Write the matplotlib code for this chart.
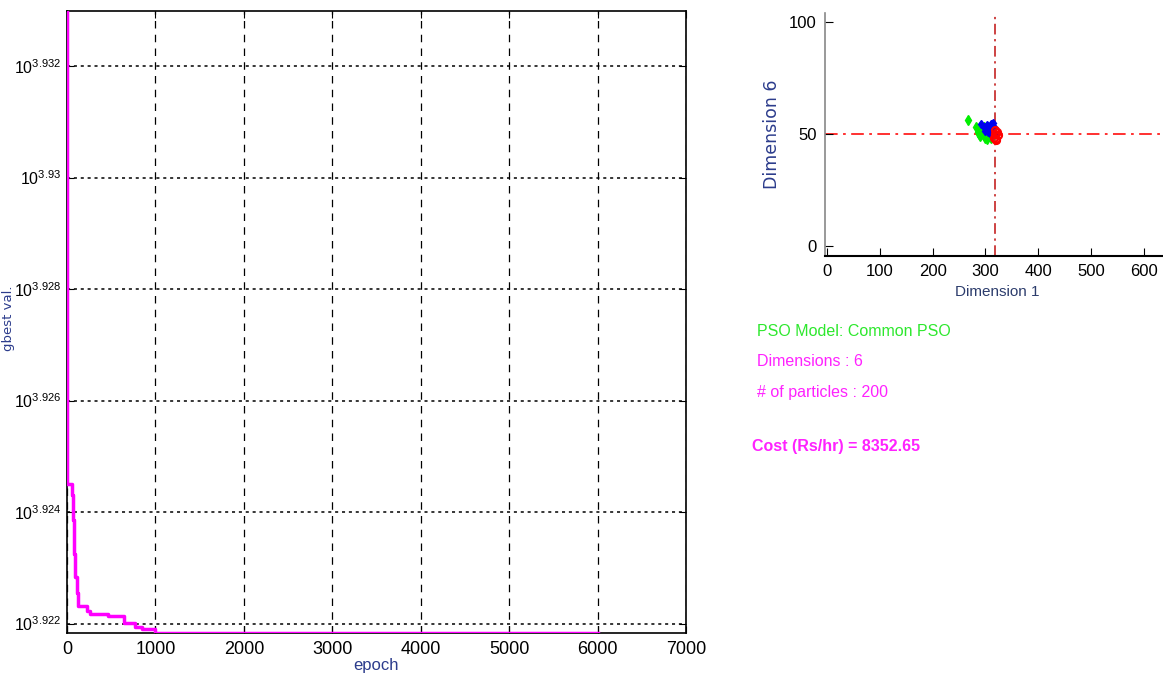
import numpy as np
import matplotlib
matplotlib.use('Agg')
import matplotlib.pyplot as plt
from matplotlib.ticker import NullLocator

plt.rcParams['font.family'] = ['Liberation Sans Narrow', 'Liberation Sans', 'DejaVu Sans']
plt.rcParams['mathtext.default'] = 'regular'

# convergence history (gbest value per epoch, step-wise)
epochs = [0, 5, 57, 68, 80, 95, 113, 124, 226, 260, 464, 645, 769, 848, 995, 6000]
gbest = [8600, 8404.5, 8400.5, 8392, 8380, 8372, 8366.5, 8362.1, 8360.5, 8359.2,
         8358.6, 8356.1, 8354.8, 8354.0, 8352.65, 8352.65]
ytick_exp = [3.922, 3.924, 3.926, 3.928, 3.93, 3.932]
ytick_txt = ['3.922', '3.924', '3.926', '3.928', '3.93', '3.932']
xticks_left = [0, 1000, 2000, 3000, 4000, 5000, 6000, 7000]

# particle swarm snapshot (dimension 1 vs dimension 6)
green_x = [268, 283, 286, 290, 293, 296, 300, 303, 306, 309, 312, 298, 288, 304, 310]
green_y = [56.5, 53, 51, 49, 52, 50, 48.5, 51, 49, 52, 50, 53, 50, 48, 48.5]
blue_x = [292, 298, 303, 307, 310, 313, 316, 318, 305, 312, 300, 315]
blue_y = [54.5, 53, 54, 52, 54.5, 51, 53, 50, 51, 49, 51.5, 55]
red_x = [318, 320, 322, 319, 321, 323, 317]
red_y = [50, 48, 51, 52, 47.5, 49.5, 48.5]
gbest_pos = (319, 50)

info_lines = [('PSO Model: Common PSO', '#2de82d', 'normal'),
              ('Dimensions : 6', '#ff22ff', 'normal'),
              ('# of particles : 200', '#ff22ff', 'normal')]
cost_text = 'Cost (Rs/hr) = 8352.65'

label_blue = '#2c3c8c'

fig = plt.figure(figsize=(11.63, 6.77), dpi=100)

# ---- left: convergence plot ----
ax = fig.add_axes([67 / 1163, 1 - 633 / 677, (686 - 67) / 1163, (633 - 11) / 677])
ax.plot(epochs, gbest, color='#ff00ff', lw=2.5, drawstyle='steps-post', zorder=3)
ax.set_yscale('log')
ax.set_ylim(10 ** 3.92183, 10 ** 3.93299)
ax.set_xlim(0, 7000)
ax.set_yticks([10 ** e for e in ytick_exp])
ax.set_yticklabels([r'$10^{%s}$' % t for t in ytick_txt])
ax.yaxis.set_minor_locator(NullLocator())
ax.set_xticks(xticks_left)
ax.set_xticklabels([str(v) for v in xticks_left])
ax.tick_params(direction='in', top=True, right=True, length=5, labelsize=13, pad=6)
ax.tick_params(axis='y', labelsize=11.5, pad=4)
ax.xaxis.grid(True, color='k', ls=(0, (6, 5)), lw=0.9)
ax.yaxis.grid(True, color='k', ls=(0, (2, 2.5)), lw=1.1)
for s in ax.spines.values():
    s.set_linewidth(1.2)
ax.set_xlabel('epoch', color=label_blue, fontsize=12, labelpad=0)
fig.text(9 / 1163, 1 - 318 / 677, 'gbest val.', color=label_blue, fontsize=9.5,
         family='DejaVu Sans', rotation=90, ha='center', va='center')

# ---- right: swarm plot ----
ax2 = fig.add_axes([825 / 1163, 1 - 256 / 677, (1170 - 825) / 1163, (256 - 13) / 677])
ax2.set_xlim(-4, 650)
ax2.set_ylim(-4.3, 104)
ax2.axhline(gbest_pos[1], color='#ff2020', ls=(0, (7, 3, 1.5, 3)), lw=1.3, zorder=1)
ax2.axvline(gbest_pos[0], color='#c01010', ls=(0, (7, 3, 1.5, 3)), lw=1.1, zorder=1)
ax2.plot(green_x, green_y, 'd', color='#00ee00', ms=5, mec='#00ee00', zorder=2)
ax2.plot(blue_x, blue_y, 'd', color='#0000ee', ms=4.5, mec='#0000ee', zorder=3)
ax2.plot(red_x, red_y, 'o', color='#ff0000', mfc='none', ms=5, mew=1.6, zorder=4)
ax2.set_xticks([0, 100, 200, 300, 400, 500, 600])
ax2.set_yticks([0, 50, 100])
ax2.tick_params(direction='in', length=6, labelsize=12, pad=6)
ax2.spines['top'].set_visible(False)
ax2.spines['right'].set_visible(False)
ax2.spines['left'].set_color('#888888')
ax2.spines['left'].set_linewidth(1.2)
ax2.spines['bottom'].set_linewidth(1.5)
ax2.set_xlabel('Dimension 1', color='#2c3c6c', fontsize=11, labelpad=4)
ax2.set_ylabel('Dimension 6', color=label_blue, fontsize=12.5, family='DejaVu Sans', labelpad=6)

# ---- info text ----
ys = [331, 361, 392]
for (txt, col, wt), yy in zip(info_lines, ys):
    fig.text(757 / 1163, 1 - yy / 677, txt, color=col, fontsize=11.5, va='center', ha='left')
fig.text(752 / 1163, 1 - 446 / 677, cost_text, color='#ff22ff', fontsize=11.5,
         fontweight='bold', va='center', ha='left')

fig.savefig('out.png', dpi=100)
